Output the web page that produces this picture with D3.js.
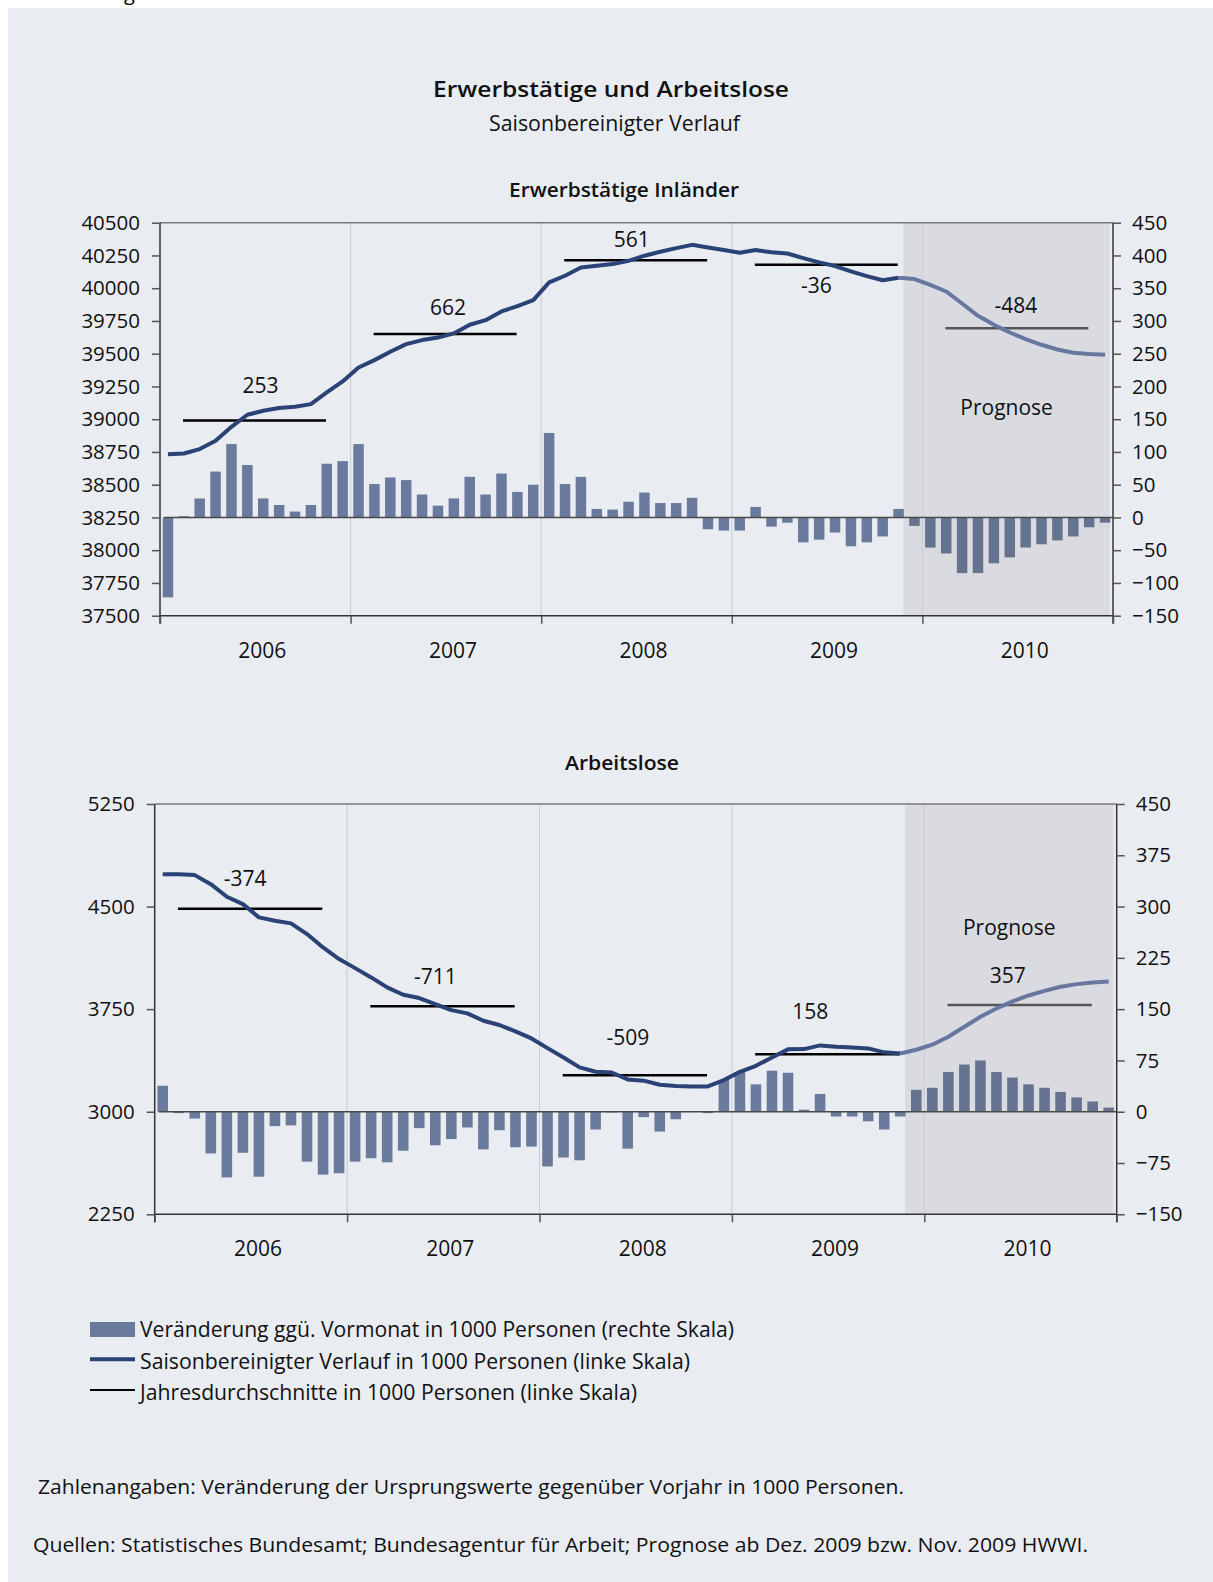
<!DOCTYPE html>
<html>
<head>
<meta charset="utf-8">
<script src="https://cdn.jsdelivr.net/npm/d3@7"></script>
<style>
  body { margin: 0; background: #fff; }
  svg { display: block; font-family: "Open Sans", sans-serif; }
</style>
</head>
<body>
<svg id="chart" width="1213" height="1582"></svg>
<script>
const years = ["2006", "2007", "2008", "2009", "2010"];

// Erwerbstätige Inländer (1000 Personen)
const empChange = [-122, 2, 29, 70, 112, 80, 29, 19, 9, 19, 82, 86,
  112, 51, 61, 57, 35, 18, 29, 62, 35, 67, 39, 50,
  129, 51, 62, 13, 12, 24, 38, 22, 22, 30, -18, -20,
  -20, 16, -14, -8, -38, -34, -23, -44, -38, -29, 13, -13,
  -46, -55, -85, -85, -70, -61, -46, -41, -35, -29, -15, -8];
const empLevel = [38733, 38738, 38772, 38835, 38942, 39034, 39064, 39085, 39095, 39115, 39204, 39288,
  39395, 39451, 39515, 39573, 39604, 39624, 39655, 39721, 39756, 39823, 39863, 39909,
  40044, 40095, 40158, 40171, 40184, 40209, 40248, 40278, 40306, 40331, 40311, 40291,
  40270, 40291, 40275, 40265, 40230, 40197, 40169, 40128, 40092, 40061, 40080, 40070,
  40026, 39975, 39883, 39789, 39721, 39662, 39611, 39568, 39532, 39507, 39497, 39492];
const empAvg = [38990, 39650, 40214, 40179, 39695];
const empAvgLabels = ["253", "662", "561", "-36", "-484"];
const empLeftTicks = [37500, 37750, 38000, 38250, 38500, 38750, 39000, 39250, 39500, 39750, 40000, 40250, 40500];
const empRightTicks = [-150, -100, -50, 0, 50, 100, 150, 200, 250, 300, 350, 400, 450];

// Arbeitslose (1000 Personen)
const unChange = [38, -2, -10, -61, -96, -60, -95, -21, -20, -73, -92, -90,
  -73, -68, -74, -57, -24, -49, -40, -23, -55, -27, -52, -51,
  -80, -67, -71, -26, -1, -54, -8, -29, -11, 0, -2, 46,
  58, 40, 60, 57, 3, 26, -7, -7, -14, -26, -7, 32,
  35, 58, 69, 75, 58, 50, 40, 35, 29, 21, 15, 6];
const unLevel = [4737, 4737, 4730, 4664, 4572, 4518, 4421, 4396, 4377, 4299, 4201, 4116,
  4050, 3982, 3909, 3855, 3831, 3787, 3743, 3719, 3665, 3634, 3587, 3536,
  3465, 3397, 3324, 3292, 3287, 3236, 3227, 3197, 3188, 3185, 3185, 3231,
  3292, 3336, 3397, 3456, 3458, 3485, 3475, 3470, 3463, 3434, 3426, 3453,
  3490, 3548, 3621, 3694, 3755, 3807, 3850, 3884, 3914, 3933, 3945, 3953];
const unAvg = [4484, 3772, 3266, 3421, 3780];
const unAvgLabels = ["-374", "-711", "-509", "158", "357"];
const unLeftTicks = [2250, 3000, 3750, 4500, 5250];
const unRightTicks = [-150, -75, 0, 75, 150, 225, 300, 375, 450];

const forecastStart = 47; // first forecast month index (Dez. 2009)

const C = {
  bg: "#e9ecf1", shade: "#d9dbe0", bar: "#6a7a9c", barF: "#66738f",
  line: "#2a4275", lineF: "#6777a0", grid: "#c9ccd3", axis: "#333"
};

const svg = d3.select("#chart");
svg.append("rect").attr("x", 8).attr("y", 8).attr("width", 1205).attr("height", 1574).attr("fill", C.bg);
// cut-off text from the page above
svg.append("text").attr("x", 124).attr("y", 0).attr("font-size", 20).attr("fill", "#000").text("g");

// fitted text helper: the original face is wider than Open Sans
function fitText(sel, len) {
  return sel.attr("textLength", len).attr("lengthAdjust", "spacingAndGlyphs");
}

fitText(svg.append("text").attr("x", 433).attr("y", 97)
  .attr("font-size", 22).attr("font-weight", 600).attr("fill", "#111").text("Erwerbstätige und Arbeitslose"), 356);
fitText(svg.append("text").attr("x", 489).attr("y", 131)
  .attr("font-size", 21).attr("fill", "#111").text("Saisonbereinigter Verlauf"), 251);

function drawPanel(cfg) {
  const g = svg.append("g");
  const x = d3.scaleLinear().domain([0, 60]).range([cfg.x0, cfg.x1]);
  const band = d3.scaleBand().domain(d3.range(60)).range([cfg.x0, cfg.x1]).paddingInner(0.34).paddingOuter(0.17);
  const yL = d3.scaleLinear().domain(cfg.leftDomain).range([cfg.yBot, cfg.yTop]);
  const yR = d3.scaleLinear().domain([-150, 450]).range([cfg.yBot, cfg.yTop]);

  fitText(g.append("text").attr("x", cfg.titleX).attr("y", cfg.titleY)
    .attr("font-size", 20).attr("font-weight", 600).attr("fill", "#111").text(cfg.title), cfg.titleW);

  // forecast shading
  g.append("rect").attr("x", x(forecastStart - 0.2)).attr("y", cfg.yTop)
    .attr("width", x(59.8) - x(forecastStart - 0.2)).attr("height", cfg.yBot - cfg.yTop)
    .attr("fill", C.shade);

  // year grid lines
  g.selectAll(".grid").data([12, 24, 36, 48]).join("line")
    .attr("x1", d => x(d)).attr("x2", d => x(d)).attr("y1", cfg.yTop).attr("y2", cfg.yBot)
    .attr("stroke", C.grid).attr("stroke-width", 1);

  // bars (right scale)
  g.selectAll(".bar").data(cfg.change).join("rect")
    .attr("x", (d, i) => band(i)).attr("width", band.bandwidth())
    .attr("y", d => yR(Math.max(0, d))).attr("height", d => Math.abs(yR(d) - yR(0)))
    .attr("fill", (d, i) => i >= forecastStart ? C.barF : C.bar);

  // zero line
  g.append("line").attr("x1", x(0) + 4).attr("x2", cfg.x1).attr("y1", yR(0)).attr("y2", yR(0))
    .attr("stroke", "#4a4a4a").attr("stroke-width", 1.5);

  // top border
  g.append("line").attr("x1", cfg.x0).attr("x2", cfg.x1).attr("y1", cfg.yTop).attr("y2", cfg.yTop)
    .attr("stroke", "#7a7a7a").attr("stroke-width", 1.5);

  // yearly averages
  const avgData = cfg.avg.map((v, k) => ({ v, k, label: cfg.labels[k], off: cfg.labelOff[k] }));
  const avgG = g.selectAll(".avg").data(avgData).join("g");
  avgG.append("line")
    .attr("x1", d => x(d.k * 12 + 1.45)).attr("x2", d => x(d.k * 12 + 10.45))
    .attr("y1", d => yL(d.v)).attr("y2", d => yL(d.v))
    .attr("stroke", d => d.k === 4 ? "#555" : "#000").attr("stroke-width", 2.5);
  avgG.append("text")
    .attr("x", d => x(d.k * 12 + 5.95) + d.off[0]).attr("y", d => yL(d.v) + d.off[1])
    .attr("text-anchor", "middle").attr("font-size", 21).attr("fill", "#111").text(d => d.label);

  // seasonally adjusted line
  const line = d3.line().x(d => x(d.i + 0.5)).y(d => yL(d.v));
  const pts = cfg.level.map((v, i) => ({ v, i }));
  g.append("path").attr("d", line(pts.slice(forecastStart - 1)))
    .attr("fill", "none").attr("stroke", C.lineF).attr("stroke-width", 4).attr("stroke-linejoin", "round");
  g.append("path").attr("d", line(pts.slice(0, forecastStart)))
    .attr("fill", "none").attr("stroke", C.line).attr("stroke-width", 4).attr("stroke-linejoin", "round");

  g.append("text").attr("x", (x(forecastStart - 0.2) + x(59.8)) / 2).attr("y", cfg.yTop + cfg.progY)
    .attr("text-anchor", "middle").attr("font-size", 21).attr("fill", "#111").text("Prognose");

  // axes
  const left = g.append("g").attr("transform", `translate(${cfg.x0},0)`)
    .call(d3.axisLeft(yL).tickValues(cfg.leftTicks).tickSize(8).tickPadding(12).tickFormat(d3.format("d")));
  const right = g.append("g").attr("transform", `translate(${cfg.x1},0)`)
    .call(d3.axisRight(yR).tickValues(cfg.rightTicks).tickSize(8).tickPadding(11).tickFormat(d3.format("d")));
  const bottom = g.append("g").attr("transform", `translate(0,${cfg.yBot})`)
    .call(d3.axisBottom(x).tickValues([0, 12, 24, 36, 48, 60]).tickSize(8).tickFormat(""));
  [left, right, bottom].forEach(a => {
    a.select(".domain").attr("stroke", C.axis).attr("stroke-width", 1.5);
    a.selectAll(".tick line").attr("stroke", "#555").attr("stroke-width", 1.5);
    a.selectAll(".tick text").attr("font-size", 20.5).attr("fill", "#111").attr("font-family", "Open Sans");
  });
  left.select(".domain").attr("d", `M0,${cfg.yTop}V${cfg.yBot + 8}`);
  right.select(".domain").attr("d", `M0,${cfg.yTop}V${cfg.yBot + 8}`);
  bottom.select(".domain").attr("d", `M${cfg.x0},0H${cfg.x1}`);

  g.selectAll(".yr").data(years).join("text")
    .attr("x", (d, k) => x(k * 12 + 6) + 7).attr("y", cfg.yBot + 42)
    .attr("text-anchor", "middle").attr("font-size", 21).attr("fill", "#111").text(d => d);
}

drawPanel({
  title: "Erwerbstätige Inländer", titleX: 509, titleY: 197, titleW: 230,
  x0: 160, x1: 1113, yTop: 222.7, yBot: 615.7,
  leftDomain: [37500, 40500], leftTicks: empLeftTicks, rightTicks: empRightTicks,
  change: empChange, level: empLevel, avg: empAvg, labels: empAvgLabels,
  labelOff: [[6, -28], [3, -19], [-4, -13.5], [-10, 28], [-1, -15]],
  progY: 192
});

drawPanel({
  title: "Arbeitslose", titleX: 565, titleY: 770, titleW: 114,
  x0: 154.7, x1: 1116.7, yTop: 804, yBot: 1214.3,
  leftDomain: [2250, 5250], leftTicks: unLeftTicks, rightTicks: unRightTicks,
  change: unChange, level: unLevel, avg: unAvg, labels: unAvgLabels,
  labelOff: [[-5, -22.5], [-7, -22.5], [-7, -30], [-17, -35], [-12, -22]],
  progY: 131
});

// legend
const legendItems = [
  { type: "bar", text: "Veränderung ggü. Vormonat in 1000 Personen (rechte Skala)", w: 594 },
  { type: "line", text: "Saisonbereinigter Verlauf in 1000 Personen (linke Skala)", w: 550 },
  { type: "avg", text: "Jahresdurchschnitte in 1000 Personen (linke Skala)", w: 497 }
];
const lg = svg.append("g").attr("transform", "translate(90,1337)");
legendItems.forEach((it, k) => {
  const yy = k * 31.7;
  if (it.type === "bar") lg.append("rect").attr("x", 0).attr("y", yy - 15).attr("width", 45).attr("height", 15).attr("fill", C.bar);
  if (it.type === "line") lg.append("line").attr("x1", 0).attr("x2", 45).attr("y1", yy - 9.5).attr("y2", yy - 9.5).attr("stroke", C.line).attr("stroke-width", 4);
  if (it.type === "avg") lg.append("line").attr("x1", 0).attr("x2", 45).attr("y1", yy - 10.5).attr("y2", yy - 10.5).attr("stroke", "#000").attr("stroke-width", 2);
  fitText(lg.append("text").attr("x", 50).attr("y", yy).attr("font-size", 21).attr("fill", "#111").text(it.text), it.w);
});

// notes
fitText(svg.append("text").attr("x", 38).attr("y", 1494).attr("font-size", 20).attr("fill", "#111")
  .text("Zahlenangaben: Veränderung der Ursprungswerte gegenüber Vorjahr in 1000 Personen."), 866);
fitText(svg.append("text").attr("x", 33).attr("y", 1552).attr("font-size", 20).attr("fill", "#111")
  .text("Quellen: Statistisches Bundesamt; Bundesagentur für Arbeit; Prognose ab Dez. 2009 bzw. Nov. 2009 HWWI."), 1055);
</script>
</body>
</html>
